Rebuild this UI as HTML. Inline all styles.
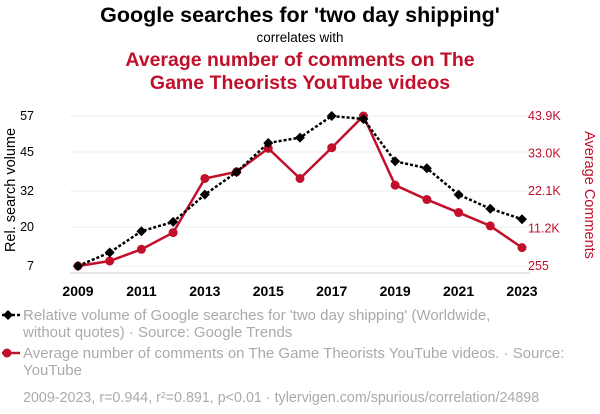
<!DOCTYPE html>
<html><head><meta charset="utf-8"><style>
body{margin:0;background:#fff;font-family:"Liberation Sans",sans-serif;}
#wrap{position:relative;width:600px;height:414px;overflow:hidden;}
</style></head><body>
<div id="wrap">
<svg id="chart" width="600" height="414" font-family="Liberation Sans, sans-serif"></svg>
</div>
<script>
const years=[2009,2010,2011,2012,2013,2014,2015,2016,2017,2018,2019,2020,2021,2022,2023];
const searches=[7,11.5,18.6,21.7,30.8,38.3,48,49.8,57,56,41.9,39.6,30.8,26.1,22.6];
const comments=[255,1713,5115,9975,25722,27665,34472,25722,34670,43900,23779,19592,15807,11920,5601];
const leftTicks=[7,20,32,45,57];
const rightTickVals=[255,11200,22100,33000,43900];
const rightTickLabels=["255","11.2K","22.1K","33.0K","43.9K"];
const xTicks=[2009,2011,2013,2015,2017,2019,2021,2023];

const svg=document.getElementById('chart');
const NS='http://www.w3.org/2000/svg';
const X0=78,X1=522,YT=116,YB=266;
const xs=v=>X0+(v-2009)/(2023-2009)*(X1-X0);
const yl=v=>YB-(v-7)/(57-7)*(YB-YT);
const yr=v=>YB-(v-255)/(43900-255)*(YB-YT);
function el(t,a,p){const e=document.createElementNS(NS,t);for(const k in a)e.setAttribute(k,a[k]);(p||svg).appendChild(e);return e;}
function txt(s,a,name){const e=el('text',a);e.textContent=s;


return e;}

txt("Google searches for 'two day shipping'",{x:300,y:22,'text-anchor':'middle','font-size':21.5,'font-weight':'bold',fill:'#000'},'chart-title');
txt("correlates with",{x:300,y:42,'text-anchor':'middle','font-size':13.5,fill:'#000'},'subtitle-connector');
txt("Average number of comments on The",{x:300,y:66,'text-anchor':'middle','font-size':19.5,'font-weight':'bold',fill:'#c0102b'},'chart-subtitle-line1');
txt("Game Theorists YouTube videos",{x:300,y:89,'text-anchor':'middle','font-size':19.5,'font-weight':'bold',fill:'#c0102b'},'chart-subtitle-line2');

leftTicks.forEach((v,i)=>{
 const g=el('line',{x1:X0-8,x2:X1+8,y1:yl(v),y2:yl(v),stroke:'#eee','stroke-width':1});
 
 
 txt(String(v),{x:34,y:yl(v)+4,'text-anchor':'end','font-size':12.5,fill:'#000'},'left-tick-label');
});
rightTickVals.forEach((v,i)=>{
 txt(rightTickLabels[i],{x:528,y:yr(v)+4,'text-anchor':'start','font-size':12.5,fill:'#c0102b'},'right-tick-label');
});
xTicks.forEach(v=>{
 txt(String(v),{x:xs(v),y:296,'text-anchor':'middle','font-size':14,'font-weight':'bold',fill:'#000'},'x-tick-label');
});
el('line',{x1:X0-8,x2:X1+8,y1:YB+7,y2:YB+7,stroke:'#ccc'});
txt("Rel. search volume",{x:0,y:0,transform:'translate(15,190) rotate(-90)','text-anchor':'middle','font-size':14.5,fill:'#000'},'y-axis-title-left');
txt("Average Comments",{x:0,y:0,transform:'translate(585,195) rotate(90)','text-anchor':'middle','font-size':14.5,fill:'#c0102b'},'y-axis-title-right');

let d=comments.map((v,i)=>(i?'L':'M')+xs(years[i])+','+yr(v)).join('');
const rl=el('path',{d:d,fill:'none',stroke:'#c0102b','stroke-width':2.5});


comments.forEach((v,i)=>{const c=el('circle',{cx:xs(years[i]),cy:yr(v),r:4.5,fill:'#c0102b'});

});
d=searches.map((v,i)=>(i?'L':'M')+xs(years[i])+','+yl(v)).join('');
const bl=el('path',{d:d,fill:'none',stroke:'#000','stroke-width':2.5,'stroke-dasharray':'3,2'});


searches.forEach((v,i)=>{const x=xs(years[i]),y=yl(v);const p=el('path',{d:`M${x},${y-5}L${x+5},${y}L${x},${y+5}L${x-5},${y}Z`,fill:'#000'});

});

// legend
const l1=el('line',{x1:2,x2:20,y1:315,y2:315,stroke:'#000','stroke-width':2.5,'stroke-dasharray':'3,2'});


el('path',{d:'M8,310L13,315L8,320L3,315Z',fill:'#000'});
txt("Relative volume of Google searches for 'two day shipping' (Worldwide,",{x:23,y:320,'font-size':15,fill:'#aaa'},'legend-entry-searches');
txt("without quotes) · Source: Google Trends",{x:23,y:337,'font-size':15,fill:'#aaa'},'legend-entry-searches-line2');
const l2=el('line',{x1:2,x2:20,y1:353,y2:353,stroke:'#c0102b','stroke-width':2.5});


el('circle',{cx:7,cy:353,r:4.5,fill:'#c0102b'});
txt("Average number of comments on The Game Theorists YouTube videos. · Source:",{x:23,y:358,'font-size':15,fill:'#aaa'},'legend-entry-comments');
txt("YouTube",{x:23,y:375,'font-size':15,fill:'#aaa'},'legend-entry-comments-line2');
txt("2009-2023, r=0.944, r²=0.891, p<0.01 · tylervigen.com/spurious/correlation/24898",{x:23,y:402,'font-size':14.3,fill:'#aaa'},'footnote');
</script>
</body></html>
